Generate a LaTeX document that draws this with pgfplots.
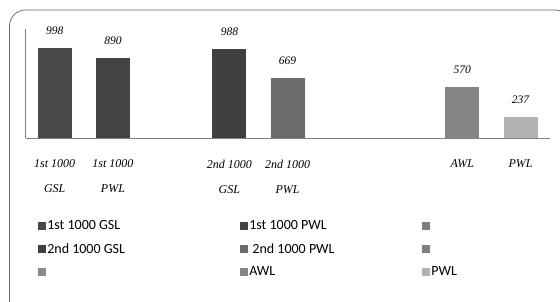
\documentclass[border=0pt]{standalone}
\usepackage{pgfplots}
\pgfplotsset{compat=1.18}
\usepackage{fontspec}
\setmainfont{Liberation Serif}
\newfontfamily\legfont{Carlito}
\definecolor{cA}{HTML}{494949}
\definecolor{cB}{HTML}{434343}
\definecolor{cC}{HTML}{7F7F7F}
\definecolor{cD}{HTML}{404040}
\definecolor{cE}{HTML}{6B6B6B}
\definecolor{cF}{HTML}{808080}
\definecolor{cG}{HTML}{8A8A8A}
\definecolor{cH}{HTML}{858585}
\definecolor{cI}{HTML}{B2B2B2}
\definecolor{frame}{HTML}{6E6E6E}
\definecolor{axgray}{HTML}{7F7F7F}
\begin{document}
\begin{tikzpicture}[x=1pt,y=1pt]
\useasboundingbox (0,0) rectangle (560,302);
\begin{scope}
\clip (0,0) rectangle (560,302);
\draw[color=frame, line width=0.8pt, rounded corners=16pt] (9.5,-20) rectangle (571,292);
\end{scope}
\begin{axis}[
  at={(44,180)}, anchor=south west,
  scale only axis, width=524pt, height=109pt,
  xmin=-0.5, xmax=8.5, ymin=0, ymax=1200,
  axis x line=bottom, axis y line=left,
  axis line style={-, line width=1.5pt, color=axgray},
  ytick=\empty,
  xtick={0,1,3,4,7,8},
  xticklabels={{1st 1000\\GSL},{1st 1000\\PWL},{2nd 1000\\GSL},{2nd 1000\\PWL},AWL,PWL},
  xticklabel style={align=center, font=\fontsize{12}{25}\selectfont\itshape, anchor=north, inner sep=0pt, yshift=-21pt},
  major tick length=0pt,
  ybar, bar width=34pt, bar shift=0pt,
  nodes near coords,
  /pgf/number format/assume math mode=true,
  nodes near coords style={font=\fontsize{11.5}{13}\selectfont\itshape, anchor=base, yshift=13pt, inner sep=0pt},
  clip=false,
  legend image code/.code={\fill[#1] (0pt,-4pt) rectangle (8pt,4pt);},
  legend columns=3,
  legend style={draw=none, fill=none, font=\legfont\fontsize{14}{16}\selectfont,
    at={(axis description cs:0.0229,-0.74)}, anchor=north west,
    row sep=9pt, inner sep=0pt, nodes={inner sep=1.5pt, anchor=west}},
  legend cell align=left,
]
\addplot[fill=cA, draw=none] coordinates {(0,998)};
\addlegendentry{\makebox[191pt][l]{1st 1000 GSL}}
\addplot[fill=cB, draw=none] coordinates {(1,890)};
\addlegendentry{\makebox[171pt][l]{1st 1000 PWL}}
\addlegendimage{fill=cC, draw=none}
\addlegendentry{\makebox[40pt][l]{}}
\addplot[fill=cD, draw=none] coordinates {(3,988)};
\addlegendentry{\makebox[191pt][l]{2nd 1000 GSL}}
\addplot[fill=cE, draw=none] coordinates {(4,669)};
\addlegendentry{\makebox[171pt][l]{ 2nd 1000 PWL}}
\addlegendimage{fill=cF, draw=none}
\addlegendentry{\makebox[40pt][l]{}}
\addlegendimage{fill=cG, draw=none}
\addlegendentry{\makebox[191pt][l]{}}
\addplot[fill=cH, draw=none] coordinates {(7,570)};
\addlegendentry{\makebox[171pt][l]{AWL}}
\addplot[fill=cI, draw=none] coordinates {(8,237)};
\addlegendentry{\makebox[40pt][l]{PWL}}
\end{axis}
\end{tikzpicture}
\end{document}
